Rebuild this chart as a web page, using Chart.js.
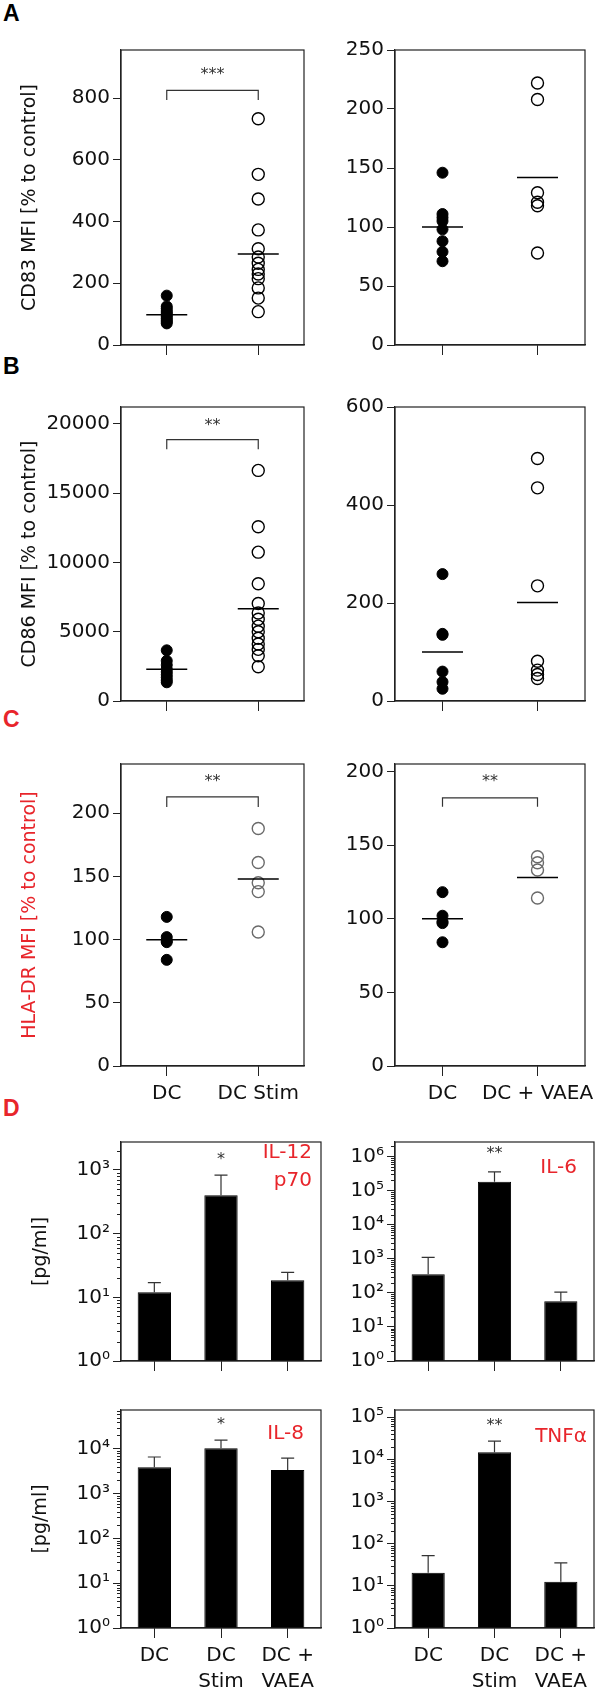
<!DOCTYPE html>
<html>
<head>
<meta charset="utf-8">
<script src="https://cdn.jsdelivr.net/npm/chart.js@4.4.0/dist/chart.umd.min.js"></script>
<style>
  body { margin: 0; background: #fff; width: 607px; height: 1689px; position: relative; overflow: hidden; }
  canvas { position: absolute; }
  .letter { position: absolute; font: bold 23px "Liberation Sans", Arial, sans-serif; line-height: 1; }
  .red { color: #e8252b; }
  .cyto { position: absolute; color: #e8252b; font: 20px "DejaVu Sans", sans-serif; text-align: right; line-height: 28px; }
</style>
</head>
<body>
<div class="letter" style="left:3px;top:2px">A</div>
<div class="letter" style="left:3px;top:355px">B</div>
<div class="letter red" style="left:3px;top:708px">C</div>
<div class="letter red" style="left:3px;top:1097px">D</div>

<canvas id="a1" style="left:0;top:28px" width="326" height="339"></canvas>
<canvas id="a2" style="left:326px;top:28px" width="281" height="339"></canvas>
<canvas id="b1" style="left:0;top:385px" width="326" height="338"></canvas>
<canvas id="b2" style="left:326px;top:385px" width="281" height="338"></canvas>
<canvas id="c1" style="left:0;top:742px" width="326" height="369"></canvas>
<canvas id="c2" style="left:326px;top:742px" width="281" height="369"></canvas>
<canvas id="d1" style="left:0;top:1127px" width="326" height="249"></canvas>
<canvas id="d2" style="left:326px;top:1127px" width="281" height="249"></canvas>
<canvas id="d3" style="left:0;top:1395px" width="326" height="293"></canvas>
<canvas id="d4" style="left:326px;top:1395px" width="281" height="293"></canvas>

<div class="cyto" style="right:295px;top:1137px">IL-12<br>p70</div>
<div class="cyto" style="right:30px;top:1152px">IL-6</div>
<div class="cyto" style="right:303px;top:1418px">IL-8</div>
<div class="cyto" style="right:20px;top:1421px">TNFα</div>

<script>
// ---- data ----
const stimLabels = ['DC', 'DC Stim'];
const vaeaLabels = ['DC', 'DC + VAEA'];
const barLabels = [['DC'], ['DC', 'Stim'], ['DC +', 'VAEA']];

// A: CD83
const cd83DC = [160, 125, 118, 110, 104, 98, 92, 86, 80, 75, 70];
const cd83Stim = [733, 553, 473, 373, 312, 285, 265, 245, 230, 215, 185, 152, 108];
const cd83StimMeans = [98, 295];
const cd83DC2 = [146, 111, 108, 105, 98, 88, 79, 71];
const cd83Vaea = [222, 208, 129, 121, 118, 78];
const cd83VaeaMeans = [100, 142];
const cd83Ticks1 = [0, 200, 400, 600, 800];
const cd83Ticks2 = [0, 50, 100, 150, 200, 250];

// B: CD86
const cd86DC = [3657, 2900, 2600, 2300, 2100, 1900, 1700, 1500, 1350];
const cd86Stim = [16640, 12570, 10740, 8457, 7040, 6354, 5900, 5400, 5000, 4525, 4114, 3725, 3270, 2470];
const cd86StimMeans = [2290, 6650];
const cd86DC2 = [259, 137, 135, 60, 39, 25];
const cd86Vaea = [495, 435, 235, 81, 63, 54, 46];
const cd86VaeaMeans = [100, 201];
const cd86Ticks1 = [0, 5000, 10000, 15000, 20000];
const cd86Ticks2 = [0, 200, 400, 600];

// C: HLA-DR
const hlaDC = [118, 102, 99, 98, 84];
const hlaStim = [188, 161, 145, 138, 106];
const hlaStimMeans = [100, 148];
const hlaDC2 = [118, 102, 98, 97, 84];
const hlaVaea = [142, 138, 133, 114];
const hlaVaeaMeans = [100, 128];
const hlaTicks = [0, 50, 100, 150, 200];

// D: cytokines [pg/ml], bar = mean, err = upper end of error bar
const il12 = [12, 400, 18.5];
const il12Err = [17, 830, 24.6];
const il6 = [350, 183000, 57];
const il6Err = [1100, 360000, 105];
const il8 = [3900, 10400, 3380];
const il8Err = [6600, 15700, 6200];
const tnf = [20.4, 14700, 12.5];
const tnfErr = [52, 27000, 35];
const logTicks = [1, 10, 100, 1000, 10000, 100000, 1000000];
const logTickLabels = ['10⁰', '10¹', '10²', '10³', '10⁴', '10⁵', '10⁶'];

const FONT = '"DejaVu Sans", sans-serif';
const RED = '#e8252b';

// box round the plot area
const framePlugin = {
  id: 'frame',
  afterDraw(chart) {
    const a = chart.chartArea, ctx = chart.ctx;
    ctx.save();
    ctx.strokeStyle = '#222';
    ctx.lineWidth = 1.2;
    ctx.strokeRect(a.left, a.top, a.right - a.left, a.bottom - a.top);
    ctx.restore();
  }
};

// significance stars
const starsPlugin = {
  id: 'stars',
  afterDatasetsDraw(chart, args, opts) {
    if (!opts.text) return;
    const ctx = chart.ctx;
    ctx.save();
    ctx.fillStyle = '#333';
    ctx.font = '16px ' + FONT;
    ctx.textAlign = 'center';
    ctx.textBaseline = 'middle';
    ctx.fillText(opts.text, chart.scales.x.getPixelForValue(opts.x), chart.scales.y.getPixelForValue(opts.y));
    ctx.restore();
  }
};

// upper error bars on the bars
const errPlugin = {
  id: 'errbars',
  afterDatasetsDraw(chart, args, opts) {
    if (!opts.values) return;
    const ctx = chart.ctx, y = chart.scales.y;
    const meta = chart.getDatasetMeta(0);
    ctx.save();
    ctx.strokeStyle = '#333';
    ctx.lineWidth = 1.2;
    meta.data.forEach((bar, i) => {
      const top = y.getPixelForValue(opts.values[i]);
      ctx.beginPath();
      ctx.moveTo(bar.x, bar.y);
      ctx.lineTo(bar.x, top);
      ctx.moveTo(bar.x - 6.5, top);
      ctx.lineTo(bar.x + 6.5, top);
      ctx.stroke();
    });
    ctx.restore();
  }
};

// short minor ticks on the log axes
const minorPlugin = {
  id: 'minor',
  afterDraw(chart) {
    const y = chart.scales.y;
    if (y.type !== 'logarithmic') return;
    const ctx = chart.ctx, x0 = chart.chartArea.left;
    ctx.save();
    ctx.strokeStyle = '#222';
    ctx.lineWidth = 1;
    for (let d = 1; d <= y.max; d *= 10) {
      for (let m = 2; m <= 9; m++) {
        const v = m * d;
        if (v > y.max) break;
        const p = Math.round(y.getPixelForValue(v)) + 0.5;
        ctx.beginPath();
        ctx.moveTo(x0 - 4, p);
        ctx.lineTo(x0, p);
        ctx.stroke();
      }
    }
    ctx.restore();
  }
};

function yAxis(cfg) {
  return {
    type: cfg.log ? 'logarithmic' : 'linear',
    min: cfg.log ? 1 : 0,
    max: cfg.max,
    afterFit: s => { s.width = cfg.width; },
    afterBuildTicks: s => { s.ticks = cfg.ticks.map(v => ({ value: v })); },
    border: { display: true, color: '#222', width: 1.2 },
    grid: { display: true, drawOnChartArea: false, drawTicks: true, tickLength: 8, color: '#222' },
    ticks: {
      padding: 3,
      color: '#111',
      font: { family: FONT, size: 20 },
      callback: cfg.log ? (v => logTickLabels[logTicks.indexOf(v)]) : (v => String(v))
    },
    title: cfg.title ? {
      display: true,
      text: cfg.title,
      color: cfg.titleColor || '#111',
      font: { family: FONT, size: 19 },
      padding: { top: cfg.titlePad, bottom: 0 }
    } : { display: false }
  };
}

function xAxis(labels, showLabels, height) {
  return {
    type: 'category',
    labels: labels,
    offset: true,
    afterFit: s => { s.height = height; },
    border: { display: true, color: '#222', width: 1.2 },
    grid: { display: true, offset: false, drawOnChartArea: false, drawTicks: true, tickLength: 10, color: '#222' },
    ticks: {
      display: showLabels,
      autoSkip: false,
      maxRotation: 0,
      padding: 5,
      color: '#111',
      font: { family: FONT, size: 20, lineHeight: 1.3 }
    }
  };
}

function scatterPanel(id, p) {
  const labels = p.labels;
  const open = p.openColor || '#000';
  new Chart(document.getElementById(id), {
    type: 'scatter',
    data: {
      datasets: [
        { // group means
          data: p.means.map((m, i) => ({ x: labels[i], y: m })),
          pointStyle: 'line', pointRadius: 20.5, borderColor: '#000', borderWidth: 1.5
        },
        {
          data: p.group1.map(v => ({ x: labels[0], y: v })),
          pointRadius: 5.5, backgroundColor: '#000', borderColor: '#000', borderWidth: 1
        },
        {
          data: p.group2.map(v => ({ x: labels[1], y: v })),
          pointRadius: 6, backgroundColor: 'rgba(0,0,0,0)', borderColor: open, borderWidth: 1.4
        },
        { // bracket
          data: p.bracket ? [
            { x: labels[0], y: p.bracket[0] }, { x: labels[0], y: p.bracket[1] },
            { x: labels[1], y: p.bracket[1] }, { x: labels[1], y: p.bracket[0] }
          ] : [],
          showLine: true, pointRadius: 0, borderColor: '#333', borderWidth: 1.2, tension: 0
        }
      ]
    },
    options: {
      responsive: false,
      animation: false,
      layout: { padding: { top: 15, left: 0, right: p.padRight, bottom: 0 } },
      plugins: {
        legend: { display: false },
        tooltip: { enabled: false },
        stars: p.stars || {}
      },
      scales: {
        x: xAxis(labels, p.showX, p.xHeight),
        y: yAxis(p.y)
      }
    },
    plugins: [framePlugin, starsPlugin]
  });
}

function barPanel(id, p) {
  new Chart(document.getElementById(id), {
    type: 'bar',
    data: {
      labels: barLabels,
      datasets: [{
        data: p.values,
        backgroundColor: '#000',
        borderColor: '#000',
        borderWidth: 1,
        barPercentage: 0.5,
        categoryPercentage: 1
      }]
    },
    options: {
      responsive: false,
      animation: false,
      layout: { padding: { top: 15, left: 0, right: p.padRight, bottom: 0 } },
      plugins: {
        legend: { display: false },
        tooltip: { enabled: false },
        stars: p.stars,
        errbars: { values: p.err }
      },
      scales: {
        x: xAxis(barLabels, p.showX, p.xHeight),
        y: yAxis(p.y)
      }
    },
    plugins: [framePlugin, starsPlugin, errPlugin, minorPlugin]
  });
}

// A
scatterPanel('a1', {
  labels: stimLabels, group1: cd83DC, group2: cd83Stim, means: cd83StimMeans,
  bracket: [794, 825], stars: { text: '***', x: 0.5, y: 874 },
  padRight: 5, showX: false, xHeight: 14,
  y: { max: 956, ticks: cd83Ticks1, width: 121, title: 'CD83 MFI [% to control]', titlePad: 19 }
});
scatterPanel('a2', {
  labels: vaeaLabels, group1: cd83DC2, group2: cd83Vaea, means: cd83VaeaMeans,
  padRight: 13, showX: false, xHeight: 14,
  y: { max: 250, ticks: cd83Ticks2, width: 69 }
});

// B
scatterPanel('b1', {
  labels: stimLabels, group1: cd86DC, group2: cd86Stim, means: cd86StimMeans,
  bracket: [18170, 18857], stars: { text: '**', x: 0.5, y: 19886 },
  padRight: 5, showX: false, xHeight: 14,
  y: { max: 21214, ticks: cd86Ticks1, width: 121, title: 'CD86 MFI [% to control]', titlePad: 19 }
});
scatterPanel('b2', {
  labels: vaeaLabels, group1: cd86DC2, group2: cd86Vaea, means: cd86VaeaMeans,
  padRight: 13, showX: false, xHeight: 14,
  y: { max: 600, ticks: cd86Ticks2, width: 69 }
});

// C
scatterPanel('c1', {
  labels: stimLabels, group1: hlaDC, group2: hlaStim, means: hlaStimMeans, openColor: '#6a6a6a',
  bracket: [205, 213], stars: { text: '**', x: 0.5, y: 225 },
  padRight: 5, showX: true, xHeight: 45,
  y: { max: 239, ticks: hlaTicks, width: 121, title: 'HLA-DR MFI [% to control]', titleColor: RED, titlePad: 19 }
});
scatterPanel('c2', {
  labels: vaeaLabels, group1: hlaDC2, group2: hlaVaea, means: hlaVaeaMeans, openColor: '#6a6a6a',
  bracket: [176, 182], stars: { text: '**', x: 0.5, y: 193 },
  padRight: 13, showX: true, xHeight: 45,
  y: { max: 205, ticks: hlaTicks, width: 69 }
});

// D
barPanel('d1', {
  values: il12, err: il12Err, stars: { text: '*', x: 1, y: 1440 },
  padRight: 5, showX: false, xHeight: 14,
  y: { log: true, max: 2750, ticks: logTicks.slice(0, 4), width: 121, title: '[pg/ml]', titlePad: 30 }
});
barPanel('d2', {
  values: il6, err: il6Err, stars: { text: '**', x: 1, y: 1200000 },
  padRight: 13, showX: false, xHeight: 14,
  y: { log: true, max: 2700000, ticks: logTicks.slice(0, 7), width: 69 }
});
barPanel('d3', {
  values: il8, err: il8Err, stars: { text: '*', x: 1, y: 34000 },
  padRight: 5, showX: true, xHeight: 60,
  y: { log: true, max: 74000, ticks: logTicks.slice(0, 5), width: 121, title: '[pg/ml]', titlePad: 30 }
});
barPanel('d4', {
  values: tnf, err: tnfErr, stars: { text: '**', x: 1, y: 61000 },
  padRight: 13, showX: true, xHeight: 60,
  y: { log: true, max: 147000, ticks: logTicks.slice(0, 6), width: 69 }
});
</script>
</body>
</html>
